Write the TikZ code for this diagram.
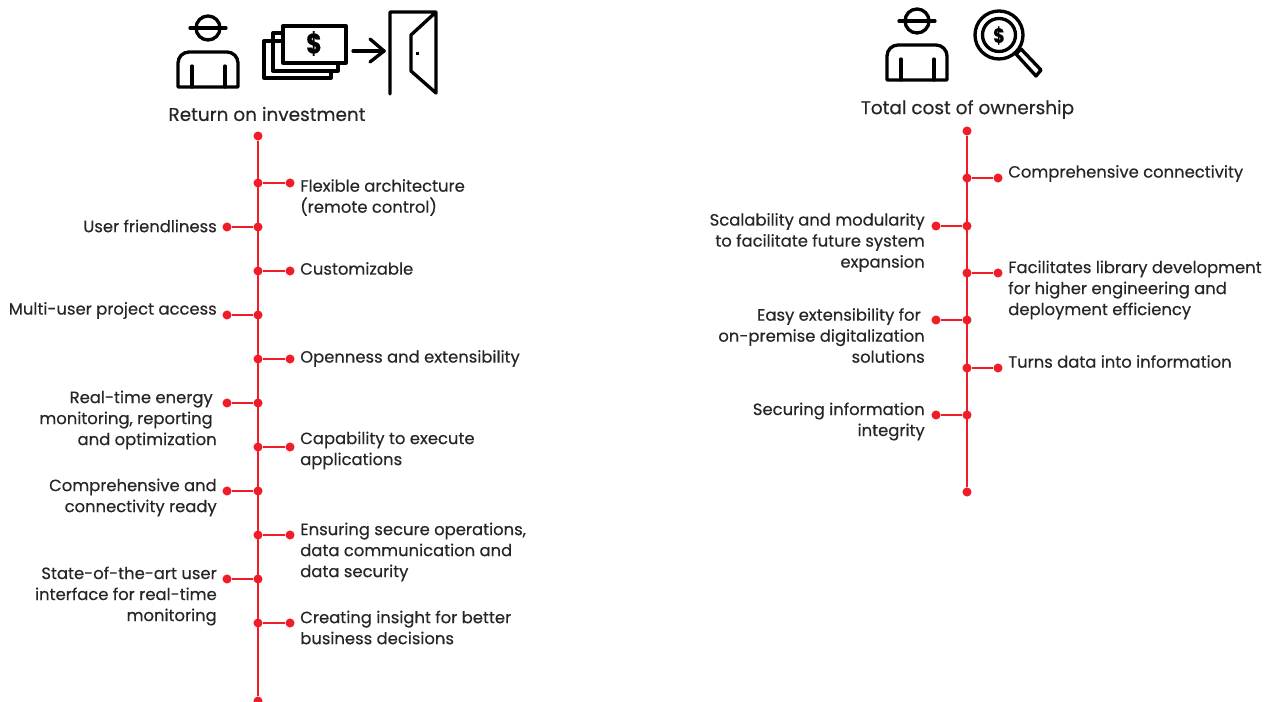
\documentclass[tikz,border=0pt]{standalone}
\usepackage{fontspec}
\setmainfont{Poppins}[FakeBold=0.4]
\definecolor{abbred}{HTML}{F01C28}
\definecolor{ink}{HTML}{262626}
\newcommand{\trail}{\rule{3pt}{0pt}}
\tikzset{
  x=0.75pt,y=-0.75pt,
  dot/.style={circle,fill=abbred,draw=none,minimum size=6.8pt,inner sep=0pt},
  spine/.style={draw=abbred,line width=1.6pt},
  lab/.style={text=ink,font=\fontsize{12.3}{15.75}\selectfont,inner sep=0pt},
  labr/.style={lab,anchor=west,align=left},
  labl/.style={lab,anchor=east,align=right},
  ttl/.style={text=ink,font=\fontsize{13.85}{16}\selectfont,inner sep=0pt},
  icon/.style={draw=black,line width=2.5pt,line join=round,line cap=round,fill=none},
}
\newcommand{\branchR}[4]{% id spineX y dotX
  \node[dot] (#1a) at (#2,#3) {};
  \node[dot] (#1b) at (#4,#3) {};
  \draw[spine] (#1a) -- (#1b);
}
\newcommand{\person}[2]{%
  \begin{scope}[shift={(#1,#2)}]
    \draw[icon] (0,-23) circle[radius=12];
    \draw[icon] (-18,-23) -- (18,-23);
    \draw[icon] (-30,36) [rounded corners=8.25pt] -- (-30,1) -- (30,1) [sharp corners] -- (30,36) -- cycle;
    \draw[icon] (-16,15) -- (-16,36);
    \draw[icon] (17,15) -- (17,36);
  \end{scope}}
\begin{document}
\begin{tikzpicture}
\useasboundingbox (0,0) rectangle (1278,702);
% left spine
\node[dot] (ltop) at (258,136) {};
\node[dot] (lbot) at (258,701) {};
\draw[spine] (ltop) -- (lbot);
\branchR{la}{258}{183}{290}
\branchR{lb}{258}{227}{227}
\branchR{lc}{258}{271}{290}
\branchR{ld}{258}{315}{227}
\branchR{le}{258}{359}{290}
\branchR{lf}{258}{403}{227}
\branchR{lg}{258}{447}{290}
\branchR{lh}{258}{491}{227}
\branchR{li}{258}{535}{290}
\branchR{lj}{258}{579}{227}
\branchR{lk}{258}{623}{290}
% right spine
\node[dot] (rtop) at (967,131) {};
\node[dot] (rbot) at (967,492) {};
\draw[spine] (rtop) -- (rbot);
\branchR{ra}{967}{178}{998}
\branchR{rb}{967}{226}{936}
\branchR{rc}{967}{273}{998}
\branchR{rd}{967}{320}{936}
\branchR{re}{967}{368}{998}
\branchR{rf}{967}{415}{936}
% titles
\node[ttl] (t1) at (267,114) {Return on investment};
\node[ttl] (t2) at (967.5,109.5) {Total cost of ownership};
% left labels
\node[labr] (l1) at (300,197.5) {Flexible architecture\\(remote control)};
\node[labl] (l2) at (217,226) {User friendliness};
\node[labr] (l3) at (300,268.5) {Customizable};
\node[labl] (l4) at (217,310.5) {Multi-user project access};
\node[labr] (l5) at (300,358.5) {Openness and extensibility};
\node[labl] (l6) at (217,420) {Real-time energy\trail\\monitoring, reporting\trail\\and optimization};
\node[labr] (l7) at (300,450.5) {Capability to execute\\applications};
\node[labl] (l8) at (217,497.5) {Comprehensive and\\connectivity ready};
\node[labr] (l9) at (300,552) {Ensuring secure operations,\\data communication and\\data security};
\node[labl] (l10) at (217,596) {State-of-the-art user\\interface for real-time\\monitoring};
\node[labr] (l11) at (300,627.5) {Creating insight for better\\business decisions};
% right labels
\node[labr] (r1) at (1008,173.5) {Comprehensive connectivity};
\node[labl] (r2) at (925,242.5) {Scalability and modularity\\to facilitate future system\\expansion};
\node[labr] (r3) at (1008,290) {Facilitates library development\\for higher engineering and\\deployment efficiency};
\node[labl] (r4) at (925,335.5) {Easy extensibility for\trail\\on-premise digitalization\\solutions};
\node[labr] (r5) at (1008,361.5) {Turns data into information};
\node[labl] (r6) at (925,421.5) {Securing information\\integrity};
% icons left
\person{208}{51}
\draw[icon] (283,41) -- (264,41) -- (264,78) -- (331,78) -- (331,71);
\draw[icon] (283,33) -- (273,33) -- (273,71) -- (338,71) -- (338,63);
\draw[icon] (283,26) rectangle (346,63);
\node[inner sep=0pt,font=\fontsize{21}{21}\selectfont\bfseries] (usd1) at (314,43.5) {\scalebox{0.85}[1]{\$}};
\draw[icon] (353,51) -- (384,51);
\draw[icon] (370,39) -- (384,51) -- (370,62);
\draw[icon] (390,94) -- (390,12) -- (436,12) -- (436,93) -- (411,71) -- (411,35) -- (436,12);
\fill[black] (415.5,52.5) rectangle (418.5,55.5);
% icons right
\person{917}{44}
\draw[icon] (999,35) circle[radius=24];
\draw[icon] (999,35) circle[radius=16.5];
\node[inner sep=0pt,font=\fontsize{15.5}{15.5}\selectfont\bfseries] (usd2) at (999,35.5) {\scalebox{0.85}[1]{\$}};
\draw[icon] (1016,54) -- (1021,49) -- (1041,70) -- (1036,76) -- cycle;
\end{tikzpicture}
\end{document}
